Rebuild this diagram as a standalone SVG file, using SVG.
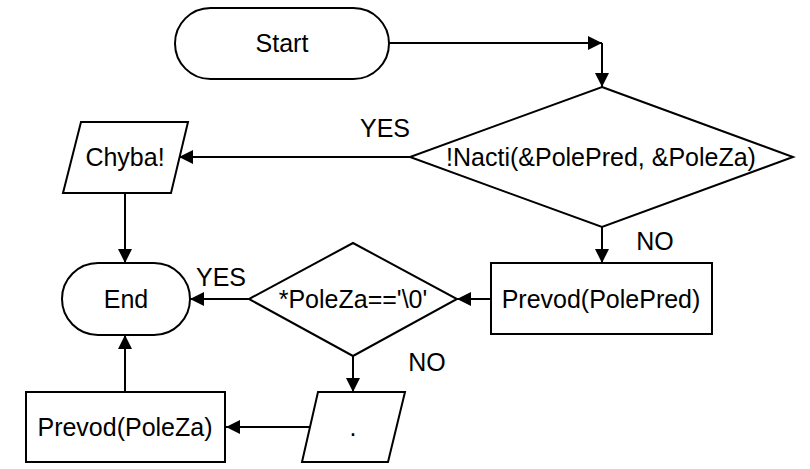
<svg xmlns="http://www.w3.org/2000/svg" width="810" height="469" viewBox="0 0 810 469">
<style>
.s{fill:#fff;stroke:#000;stroke-width:2}
.t{font-family:"Liberation Sans",Arial,sans-serif;font-size:25px;fill:#000;text-anchor:middle}
.c{fill:none;stroke:#000;stroke-width:2}
</style>
<defs>
<marker id="a" viewBox="0 0 14 14" refX="14" refY="7" markerWidth="14" markerHeight="14" markerUnits="userSpaceOnUse" orient="auto">
<path d="M0,0 L14,7 L0,14 z" fill="#000"/>
</marker>
</defs>
<rect width="810" height="469" fill="#fff"/>
<g id="connectors">
<path class="c" d="M389,43 H602" marker-end="url(#a)"/>
<path class="c" d="M602,43 V87" marker-end="url(#a)"/>
<path class="c" d="M410,157 H179" marker-end="url(#a)"/>
<path class="c" d="M125,193 V263" marker-end="url(#a)"/>
<path class="c" d="M602,227 V263" marker-end="url(#a)"/>
<path class="c" d="M491,299 H457" marker-end="url(#a)"/>
<path class="c" d="M249,299 H190" marker-end="url(#a)"/>
<path class="c" d="M353,356 V392" marker-end="url(#a)"/>
<path class="c" d="M310,427 H226" marker-end="url(#a)"/>
<path class="c" d="M125,392 V335" marker-end="url(#a)"/>
<text class="t" x="385" y="137">YES</text>
<text class="t" x="655" y="250">NO</text>
<text class="t" x="221" y="286">YES</text>
<text class="t" x="427" y="371">NO</text>
</g>
<g id="start">
<rect class="s" x="175" y="8" width="214" height="71" rx="35.5"/>
<text class="t" x="282" y="52">Start</text>
</g>
<g id="nacti">
<polygon class="s" points="602,87 793,157 602,227 410,157"/>
<text class="t" x="601" y="166">!Nacti(&amp;PolePred, &amp;PoleZa)</text>
</g>
<g id="chyba">
<polygon class="s" points="81,122 188,122 171,193 63,193"/>
<text class="t" x="125" y="166">Chyba!</text>
</g>
<g id="end">
<rect class="s" x="62" y="263" width="128" height="72" rx="36"/>
<text class="t" x="126" y="308">End</text>
</g>
<g id="prevodPred">
<rect class="s" x="491" y="263" width="221" height="71"/>
<text class="t" x="601" y="308">Prevod(PolePred)</text>
</g>
<g id="polezaCheck">
<polygon class="s" points="353,243 457,299 353,356 249,299"/>
<text class="t" x="353" y="308">*PoleZa=='\0'</text>
</g>
<g id="output">
<polygon class="s" points="318,392 405,392 388,462 302,462"/>
<text class="t" x="353" y="436">.</text>
</g>
<g id="prevodZa">
<rect class="s" x="26" y="392" width="199" height="70"/>
<text class="t" x="125" y="436">Prevod(PoleZa)</text>
</g>
</svg>
